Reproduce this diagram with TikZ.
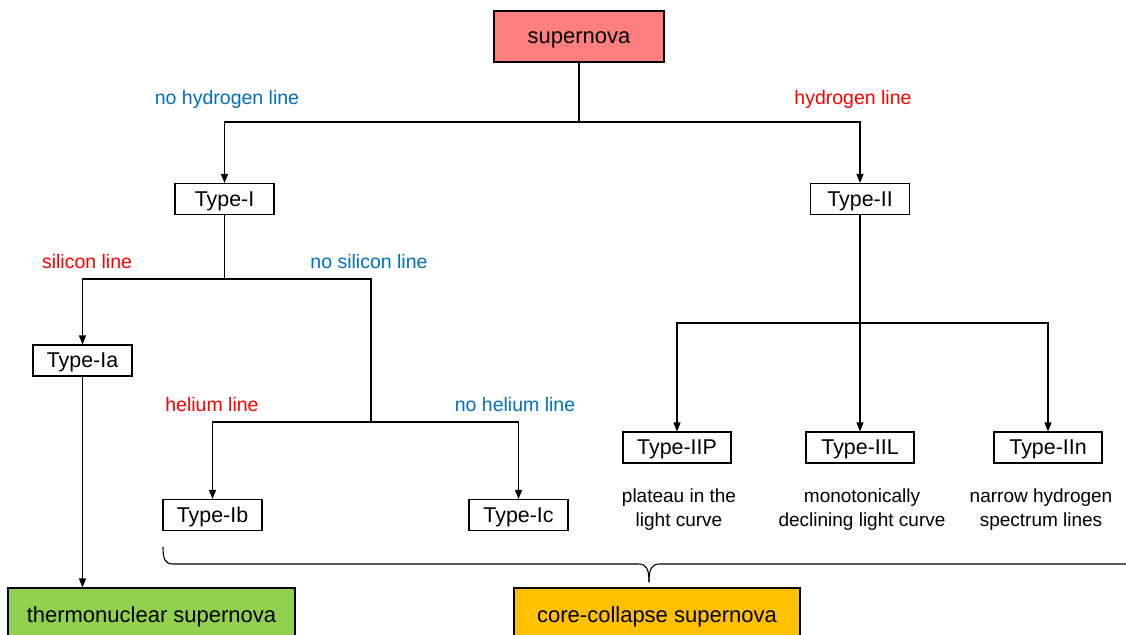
\documentclass[tikz,border=0pt]{standalone}
\usepackage{fontspec}
\setmainfont{Liberation Sans}
\usetikzlibrary{arrows.meta}
\definecolor{snpink}{HTML}{FF7F7F}
\definecolor{tngreen}{HTML}{92D050}
\definecolor{ccorange}{HTML}{FFC000}
\definecolor{lblblue}{HTML}{0070C0}
\definecolor{lblred}{HTML}{FF0000}
\tikzset{
  typebox/.style={draw, line width=1.1pt, fill=white, inner sep=0pt, minimum width=99pt, minimum height=31pt, text height=15.5pt, text depth=1.5pt, font=\fontsize{21.4}{24}\selectfont},
  typebox2/.style={typebox, minimum width=108pt},
  bigbox/.style={draw, line width=1.1pt, inner sep=0pt, text height=16pt, text depth=1pt, font=\fontsize{22}{26}\selectfont},
  lbl/.style={inner sep=0pt, font=\fontsize{19.5}{22}\selectfont},
  desc/.style={inner sep=0pt, align=center, font=\fontsize{19}{24}\selectfont},
  conn/.style={line width=1.1pt},
  arr/.style={conn, -{Triangle[length=9pt,width=7pt]}}
}
\begin{document}
\begin{tikzpicture}[x=1pt,y=-1pt]
\useasboundingbox (0,0) rectangle (1126,634);
\clip (0,0) rectangle (1126,634);
\fill[white] (0,0) rectangle (1126,634);
% nodes
\node[bigbox, fill=snpink, minimum width=170pt, minimum height=51pt] (sn) at (579,36.5) {supernova};
\node[typebox] (t1) at (224.5,199) {Type-I};
\node[typebox] (t2) at (860,199) {Type-II};
\node[typebox] (ta) at (82.5,360.5) {Type-Ia};
\node[typebox] (tb) at (212.5,515) {Type-Ib};
\node[typebox] (tc) at (518.5,515) {Type-Ic};
\node[typebox2] (tp) at (677,447.5) {Type-IIP};
\node[typebox2] (tl) at (860,447.5) {Type-IIL};
\node[typebox2] (tn) at (1048,447.5) {Type-IIn};
\node[bigbox, fill=tngreen, minimum width=287pt, minimum height=60pt] (th) at (151.5,618) {};
\node[bigbox, fill=ccorange, minimum width=286pt, minimum height=60pt] (cc) at (657,618) {};
\node[bigbox, draw=none] (thl) at (151.5,614.5) {thermonuclear supernova};
\node[bigbox, draw=none] (ccl) at (657,614.5) {core-collapse supernova};
% labels
\node[lbl, text=lblblue] (l1) at (227,99.5) {no hydrogen line};
\node[lbl, text=lblred] (l2) at (853,99.5) {hydrogen line};
\node[lbl, text=lblred] (l3) at (87,261.5) {silicon line};
\node[lbl, text=lblblue] (l4) at (369,261.5) {no silicon line};
\node[lbl, text=lblred] (l5) at (212,404.5) {helium line};
\node[lbl, text=lblblue] (l6) at (515,404.5) {no helium line};
\node[desc] (d1) at (679,510) {plateau in the\\light curve};
\node[desc] (d2) at (862,510) {monotonically\\declining light curve};
\node[desc] (d3) at (1041,510) {narrow hydrogen\\spectrum lines};
% junctions
\coordinate (j1) at (579,122);
\coordinate (j2) at (224.5,279);
\coordinate (j3) at (371,422);
\coordinate (j4) at (860,323);
% connectors
\draw[conn] (sn.south) -- (j1);
\draw[arr] (j1) -| (t1.north);
\draw[arr] (j1) -| (t2.north);
\draw[conn] (t1.south) -- (j2);
\draw[arr] (j2) -| (ta.north);
\draw[conn] (j2) -| (j3);
\draw[arr] (j3) -| (tb.north);
\draw[arr] (j3) -| (tc.north);
\draw[arr] (ta.south) -- (ta.south |- th.north);
\draw[conn] (t2.south) -- (j4);
\draw[arr] (j4) -| (tp.north);
\draw[arr] (j4) -- (tl.north);
\draw[arr] (j4) -| (tn.north);
% brace
\coordinate (bl) at (163,547);
\coordinate (bt) at (649,582);
\coordinate (br) at (1140,564);
\draw[conn] (bl) .. controls (163,559) and (165,564) .. (173,564) -- (638,564) .. controls (646,564) and (649,568) .. (bt);
\draw[conn] (bt) .. controls (649,568) and (652,564) .. (660,564) -- (br);
\end{tikzpicture}
\end{document}
